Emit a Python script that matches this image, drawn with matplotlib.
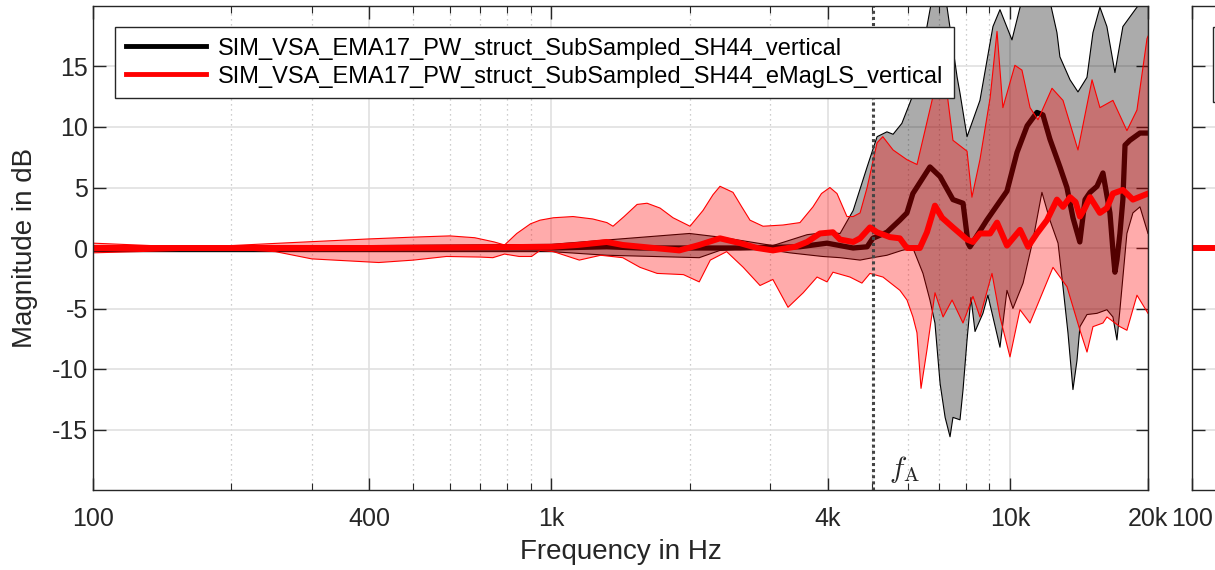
import numpy as np
import matplotlib
matplotlib.use("Agg")
import matplotlib.pyplot as plt
from matplotlib.ticker import FixedLocator, NullFormatter

plt.rcParams['font.family'] = ['Liberation Sans', 'DejaVu Sans']
plt.rcParams['mathtext.fontset'] = 'cm'
plt.rcParams['axes.unicode_minus'] = False

# --- data (frequency in Hz, magnitude in dB) ---
labels = ['SIM_VSA_EMA17_PW_struct_SubSampled_SH44_vertical',
          'SIM_VSA_EMA17_PW_struct_SubSampled_SH44_eMagLS_vertical']

# black: mean, upper and lower envelope
bm_f = [100, 400, 1000, 1320, 1560, 2000, 2580, 3480, 3990, 4260, 4550, 4880, 5020, 5390, 5750,
        5960, 6140, 6690, 7040, 7510, 7900, 8100, 8180, 8900, 9850, 10360, 10900, 11450, 11800, 12220,
        12850, 13310, 13720, 14200, 14580, 14950, 15480, 15950, 16520, 16770, 16940, 17110, 17370, 17630, 17820,
        18260, 19210, 20000]
bm_db = [0.0, 0.0, 0.0, 0.1, 0.0, 0.0, 0.0, 0.1, 0.4, 0.2, 0.0, 0.1, 0.8, 1.3, 2.3,
         2.9, 4.5, 6.7, 5.9, 4.0, 3.7, 0.4, 0.1, 2.3, 4.7, 7.9, 10.1, 11.2, 11.0, 9.0,
         6.7, 5.0, 2.5, 0.5, 4.0, 4.6, 5.1, 6.2, 2.9, -0.2, -2.0, -1.0, 1.2, 4.0, 8.5,
         8.9, 9.5, 9.5]

bu_f = [100, 400, 1000, 1360, 2000, 2330, 3040, 3610, 3990, 4260, 4550, 4880, 5130, 5390, 5560,
        5810, 6050, 6360, 6590, 6790, 7040, 7290, 7670, 7780, 8060, 8600, 9180, 9510, 10100, 10520,
        11060, 12040, 12660, 12850, 13520, 14070, 14720, 15170, 15710, 16270, 16940, 17630, 18920, 20000]
bu_db = [0.2, 0.2, 0.3, 0.7, 1.2, 0.9, 0.2, 1.1, 1.3, 1.2, 3.1, 6.7, 9.2, 9.6, 9.4,
         10.3, 12.0, 14.2, 18.3, 21.0, 21.0, 19.9, 14.1, 12.8, 9.2, 12.2, 18.3, 19.7, 17.2, 19.9,
         21.5, 21.5, 17.8, 15.8, 13.9, 12.9, 14.1, 17.8, 19.9, 18.3, 14.5, 18.3, 19.9, 21.0]

bl_f = [100, 400, 1000, 1320, 2100, 2330, 2810, 3310, 3900, 4260, 4710, 5020, 5390, 5810, 6140,
        6460, 6690, 6860, 7040, 7220, 7400, 7510, 7780, 7900, 8060, 8220, 8390, 8730, 8950, 9510,
        9850, 10150, 10680, 11230, 11740, 12220, 12730, 13050, 13380, 13720, 14000, 14210, 14720, 15480, 16270,
        16770, 17110, 17370, 17990, 18540, 19210, 20000]
bl_db = [-0.3, -0.3, -0.3, -0.6, -0.8, -0.2, 0.0, -0.4, -0.7, -0.8, -1.0, -0.8, -0.6, -0.2, 0.0,
         -2.1, -4.3, -6.2, -11.2, -14.0, -15.6, -14.0, -14.2, -11.7, -7.6, -4.1, -6.9, -5.4, -3.9, -8.2,
         -3.5, -5.0, -2.9, 0.7, 4.6, 2.3, 0.4, -3.2, -7.0, -11.7, -9.3, -6.5, -5.5, -5.4, -5.1,
         -5.7, -7.6, -5.1, 1.2, 2.9, 3.4, 1.2]

# red (eMagLS): mean, upper and lower envelope
rm_f = [100, 400, 1000, 1140, 1320, 1430, 1900, 2100, 2330, 2580, 2810, 3040, 3400, 3610, 3850,
        4110, 4260, 4550, 4710, 4950, 5130, 5470, 5750, 5960, 6360, 6590, 6860, 7110, 7510, 8060,
        8300, 8600, 9050, 9370, 9850, 10520, 10950, 11450, 12040, 12660, 13050, 13520, 13900, 14210, 14570,
        14950, 15710, 16270, 16770, 17630, 18540, 20000]
rm_db = [0.0, 0.0, 0.1, 0.25, 0.5, 0.25, -0.2, 0.25, 0.8, 0.4, 0.0, -0.2, 0.1, 0.5, 1.2,
         1.3, 0.7, 0.5, 0.8, 1.7, 1.3, 0.9, 0.8, 0.0, 0.0, 1.3, 3.5, 2.5, 1.7, 0.7,
         0.5, 1.2, 1.2, 2.1, 0.2, 1.5, 0.1, 1.2, 2.3, 4.0, 3.4, 4.2, 3.8, 2.6, 3.3,
         4.2, 2.9, 3.3, 4.5, 4.8, 4.0, 4.5]

ru_f = [100, 155, 200, 256, 400, 500, 600, 680, 750, 790, 840, 900, 944, 1010, 1114,
        1230, 1321, 1362, 1440, 1537, 1616, 1725, 1841, 2005, 2140, 2250, 2331, 2488, 2600, 2710,
        2893, 3198, 3483, 3718, 3880, 4048, 4195, 4410, 4550, 4710, 4880, 5130, 5280, 5560, 5960,
        6270, 6460, 6790, 7110, 7290, 7510, 8060, 8260, 8600, 9050, 9370, 9650, 10250, 10620, 11060,
        11510, 12350, 13050, 14070, 15100, 15710, 16770, 17990, 18920, 19900, 20000]
ru_db = [0.4, 0.1, 0.2, 0.4, 0.75, 0.9, 1.0, 0.85, 0.5, 0.25, 1.2, 2.0, 2.3, 2.5, 2.6,
         2.4, 2.1, 1.8, 2.6, 3.6, 3.7, 3.3, 2.5, 1.8, 3.1, 4.4, 5.1, 4.6, 3.4, 2.3,
         1.8, 1.9, 2.1, 3.4, 4.5, 5.0, 4.5, 2.6, 2.6, 2.9, 5.0, 8.7, 9.2, 8.1, 7.3,
         6.9, 9.0, 12.5, 15.1, 12.8, 8.9, 8.0, 4.2, 7.3, 12.4, 17.9, 11.6, 15.1, 14.7, 11.6,
         10.6, 13.2, 12.2, 8.1, 13.9, 11.6, 12.2, 9.7, 11.4, 17.3, 17.5]

rl_f = [100, 155, 200, 250, 300, 420, 500, 590, 700, 745, 790, 850, 905, 944, 1010,
        1150, 1280, 1430, 1560, 1700, 1940, 2100, 2220, 2410, 2620, 2850, 3040, 3280, 3540, 3795,
        3990, 4111, 4477, 4754, 4950, 5284, 5754, 5962, 6143, 6268, 6397, 6592, 6862, 7146, 7477,
        7898, 8304, 8600, 9136, 9510, 10000, 10515, 11056, 12411, 13314, 14211, 14723, 15171, 15951, 16274,
        17370, 17991, 18923, 20000]
rl_db = [-0.4, -0.2, -0.1, -0.3, -0.9, -1.2, -1.0, -0.7, -0.75, -0.8, -0.5, -0.7, -0.7, -0.2, -0.3,
         -1.0, -0.6, -0.8, -1.6, -2.1, -2.2, -2.8, -1.0, -0.3, -1.6, -3.1, -2.6, -4.9, -3.7, -2.4,
         -2.8, -2.0, -2.4, -2.9, -2.1, -2.4, -3.5, -4.3, -5.7, -7.0, -11.6, -8.4, -3.7, -5.7, -4.3,
         -6.2, -4.0, -5.7, -2.1, -5.7, -9.0, -5.1, -6.2, -1.6, -3.2, -6.8, -8.6, -6.5, -6.2, -5.7,
         -6.5, -6.8, -3.9, -5.4]

f_alias = 5020  # f_A marker

xticks = [100, 400, 1000, 4000, 10000, 20000]
xticklabels = ['100', '400', '1k', '4k', '10k', '20k']
xminor = [200, 300, 500, 600, 700, 800, 900, 2000, 3000, 5000, 6000, 7000, 8000, 9000]
yticks = [-15, -10, -5, 0, 5, 10, 15]

W, H = 1215, 570
fig = plt.figure(figsize=(W / 100, H / 100), dpi=100)
ax = fig.add_axes([93 / W, 80 / H, 1055 / W, 484 / H])
ax2 = fig.add_axes([1192 / W, 80 / H, 0.9, 484 / H])

TXT = '#262626'


def style(a):
    a.set_xscale('log')
    a.set_xlim(100, 20000)
    a.set_ylim(-20, 20)
    a.set_xticks(xticks)
    a.set_xticklabels(xticklabels)
    a.xaxis.set_minor_locator(FixedLocator(xminor))
    a.xaxis.set_minor_formatter(NullFormatter())
    a.set_yticks(yticks)
    a.set_axisbelow(True)
    a.tick_params(which='both', direction='in', top=True, right=True, colors=TXT, labelsize=18)
    a.tick_params(which='major', length=9, width=1)
    a.tick_params(which='minor', length=5, width=0.8)
    a.tick_params(axis='x', pad=12)
    a.grid(True, which='major', color='#e0e0e0', lw=1.2)
    a.grid(True, which='minor', axis='x', color='#bdbdbd', ls=(0, (1, 3)), lw=0.9)
    for s in a.spines.values():
        s.set_color(TXT)
        s.set_linewidth(1)


style(ax)
style(ax2)
ax2.tick_params(labelleft=False)

# grey band (black series)
ax.fill(np.r_[bu_f, bl_f[::-1]], np.r_[bu_db, bl_db[::-1]], color='k', alpha=0.33, lw=0, zorder=1)
ax.plot(bu_f, bu_db, color='k', lw=0.8, zorder=2)
ax.plot(bl_f, bl_db, color='k', lw=0.8, zorder=2)
ax.plot(bm_f, bm_db, color='k', lw=3.8, zorder=2.1, label=labels[0])

# red band (eMagLS series)
ax.fill(np.r_[ru_f, rl_f[::-1]], np.r_[ru_db, rl_db[::-1]], color='red', alpha=0.33, lw=0, zorder=2.2)
ax.plot(ru_f, ru_db, color='red', lw=0.8, zorder=2.3)
ax.plot(rl_f, rl_db, color='red', lw=0.8, zorder=2.3)
ax.axvline(f_alias, color='#444444', ls=(0, (1, 1)), lw=2.2, zorder=2.35)
ax.plot(rm_f, rm_db, color='red', lw=4.3, zorder=2.4, label=labels[1])

ax.text(5450, -19.6, r'$f_\mathrm{A}$', fontsize=21, color=TXT, ha='left', va='bottom')

ax.set_xlabel('Frequency in Hz', fontsize=20, color=TXT, labelpad=6)
ax.set_ylabel('Magnitude in dB', fontsize=20, color=TXT, labelpad=10)

leg = ax.legend(loc='upper left', bbox_to_anchor=(22 / 1055, 1 - 21 / 484), borderaxespad=0,
                fontsize=17, handlelength=3.4, handletextpad=0.5, labelspacing=0.25,
                fancybox=False, framealpha=1, edgecolor=TXT, borderpad=0.45)
leg.get_frame().set_linewidth(1)
for h in leg.get_lines():
    h.set_linewidth(3.5)

# neighbouring panel, mostly cut off
ax2.axhline(0, color='red', lw=4.3)
h2, l2 = ax.get_legend_handles_labels()
leg2 = ax2.legend(h2, l2, loc='upper left', bbox_to_anchor=(1213 / W, 1 - 27 / H),
                  bbox_transform=fig.transFigure, borderaxespad=0, fontsize=17,
                  fancybox=False, framealpha=1, edgecolor=TXT)

fig.savefig('out.png', dpi=100)
